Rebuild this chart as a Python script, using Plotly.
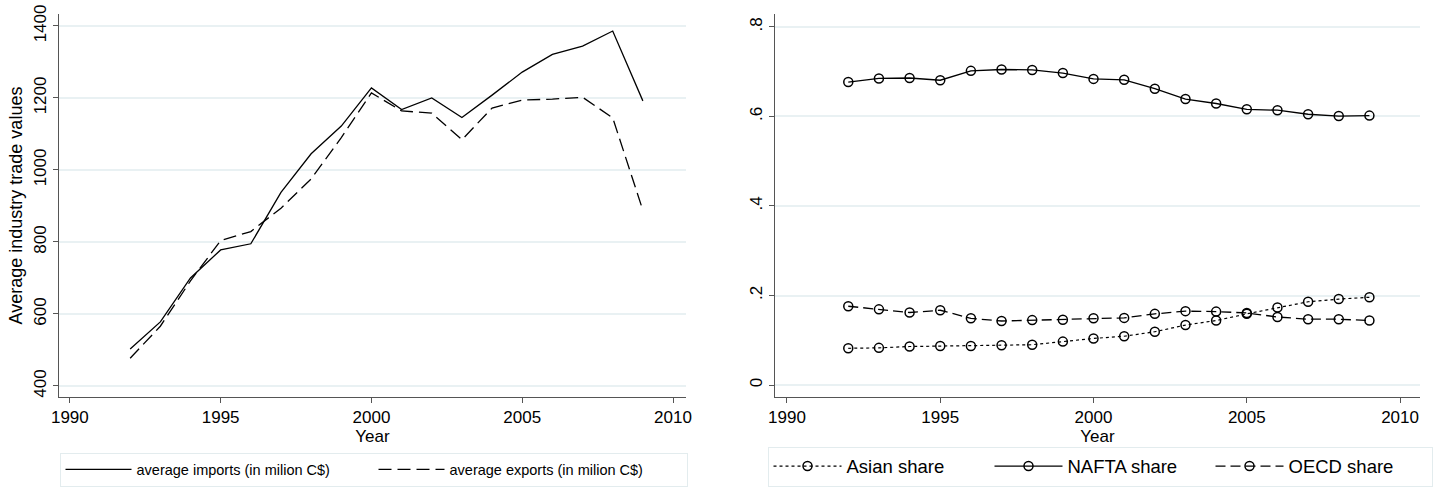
import plotly.graph_objects as go

years = list(range(1992, 2010))
imports = [503, 578, 700, 778, 795, 938, 1045, 1122, 1228, 1168, 1200, 1146, 1208, 1272, 1321, 1344, 1386, 1192]
exports = [477, 566, 692, 804, 829, 894, 975, 1090, 1214, 1164, 1158, 1084, 1172, 1194, 1197, 1202, 1145, 888]

asian = [0.082, 0.083, 0.086, 0.087, 0.087, 0.089, 0.090, 0.097, 0.104, 0.109, 0.119, 0.134, 0.144, 0.159, 0.173, 0.186, 0.192, 0.196]
nafta = [0.677, 0.685, 0.686, 0.681, 0.702, 0.705, 0.704, 0.697, 0.684, 0.682, 0.662, 0.639, 0.629, 0.616, 0.614, 0.605, 0.601, 0.602]
oecd = [0.176, 0.169, 0.162, 0.167, 0.149, 0.143, 0.145, 0.146, 0.149, 0.150, 0.159, 0.165, 0.164, 0.161, 0.152, 0.147, 0.147, 0.144]

x_ticks = [1990, 1995, 2000, 2005, 2010]
y1_ticks = [400, 600, 800, 1000, 1200, 1400]
y2_ticks = [0, 0.2, 0.4, 0.6, 0.8]
y2_ticktext = ["0", ".2", ".4", ".6", ".8"]

FONT = "Liberation Sans"
W, H = 1435, 487
GRID = "#e9f1f3"
AX = "#555555"

fig = go.Figure()

fig.add_trace(go.Scatter(x=years, y=imports, mode="lines", name="average imports (in milion C$)",
                         line=dict(color="black", width=1.3), xaxis="x", yaxis="y", legend="legend"))
fig.add_trace(go.Scatter(x=years, y=exports, mode="lines", name="average exports (in milion C$)",
                         line=dict(color="black", width=1.3, dash="13px,6px"), xaxis="x", yaxis="y", legend="legend"))

mk = dict(symbol="circle-open", size=9, color="black", line=dict(width=1.5, color="black"))
fig.add_trace(go.Scatter(x=years, y=asian, mode="lines+markers", name="Asian share",
                         line=dict(color="black", width=1.2, dash="dot"), marker=mk,
                         xaxis="x2", yaxis="y2", legend="legend2"))
fig.add_trace(go.Scatter(x=years, y=nafta, mode="lines+markers", name="NAFTA share",
                         line=dict(color="black", width=1.3), marker=mk,
                         xaxis="x2", yaxis="y2", legend="legend2"))
fig.add_trace(go.Scatter(x=years, y=oecd, mode="lines+markers", name="OECD share",
                         line=dict(color="black", width=1.3, dash="10px,5px"), marker=mk,
                         xaxis="x2", yaxis="y2", legend="legend2"))

ydom = [1 - 397 / H, 1 - 14 / H]

common_x = dict(tickvals=x_ticks, showgrid=False, zeroline=False, showline=True, linecolor=AX, linewidth=1,
                ticks="outside", ticklen=5, tickcolor=AX, automargin=False,
                tickfont=dict(size=17, color="black", family=FONT),
                title=dict(text="Year", font=dict(size=17, color="black", family=FONT), standoff=0))
common_y = dict(showgrid=True, gridcolor=GRID, gridwidth=1.5, zeroline=False, showline=True, linecolor=AX,
                linewidth=1, ticks="outside", ticklen=5, tickcolor=AX, tickangle=-90, automargin=False,
                tickfont=dict(size=17, color="black", family=FONT), domain=ydom)

fig.update_layout(
    width=W, height=H,
    margin=dict(l=0, r=0, t=0, b=0),
    paper_bgcolor="white", plot_bgcolor="white",
    font=dict(family=FONT, color="black"),
    xaxis=dict(domain=[59 / W, 686 / W], range=[1989.64, 2010.43], anchor="y", **common_x),
    yaxis=dict(range=[369.4, 1433.3], tickvals=y1_ticks, anchor="x",
               title=dict(text="Average industry trade values", font=dict(size=18, color="black", family=FONT), standoff=3),
               **common_y),
    xaxis2=dict(domain=[775 / W, 1420 / W], range=[1989.61, 2010.65], anchor="y2", **common_x),
    yaxis2=dict(range=[-0.0268, 0.829], tickvals=y2_ticks, ticktext=y2_ticktext, anchor="x2", **common_y),
    legend=dict(orientation="h", x=(72 + 675) / 2 / W, xanchor="center", y=0.001, yanchor="bottom",
                bordercolor="#e3ecee", borderwidth=1, bgcolor="white", font=dict(size=14.5, family=FONT),
                entrywidth=232, itemwidth=66),
    legend2=dict(orientation="h", x=(788 + 1412) / 2 / W, xanchor="center", y=0.001, yanchor="bottom",
                 bordercolor="#e3ecee", borderwidth=1, bgcolor="white", font=dict(size=18.5, family=FONT),
                 entrywidth=138, itemwidth=68),
)

fig.write_html("out.html")
